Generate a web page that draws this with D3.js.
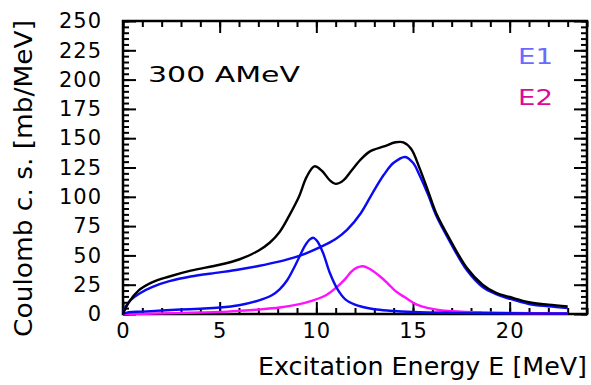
<!DOCTYPE html>
<html>
<head>
<meta charset="utf-8">
<script src="https://cdn.jsdelivr.net/npm/d3@7"></script>
<style>
  body { margin: 0; background: #fff; }
  svg text { font-family: "DejaVu Sans", sans-serif; }
</style>
</head>
<body>
<div id="chart"></div>
<script>
// values: [E (MeV), dσ/dE (mb/MeV)]
var totalCurve = [[0,0],[0.3,10],[0.8,20],[1.5,27],[2.4,32],[3.5,37],[5,42],[6,46.5],[7,54],[7.6,61],[8.1,70],
  [8.6,84],[9.1,100],[9.5,117],[9.9,126],[10.3,122],[10.7,114],[11,111],[11.4,114],[11.8,122],[12.3,132],
  [12.8,139],[13.5,143],[14.1,146.5],[14.5,146.5],[14.9,141],[15.35,124],[15.8,104],[16.2,86],[16.9,64],
  [17.8,39],[18.6,25],[19.3,18],[20,14.5],[21,10],[22,8],[23,6.5]];
var gdrE1 = [[0,0],[0.1,5],[0.4,12],[0.9,18],[1.5,23],[2.4,28],[3.5,32],[5,35.5],[6,38],[7,41],[8,44.5],
  [9,49],[9.5,52],[10.2,57],[11,64],[11.6,72],[12.3,86],[12.9,103],[13.5,119],[14,129],[14.6,134],[15,129],
  [15.35,118],[15.8,101],[16.2,84],[16.9,62],[17.8,37],[18.6,23],[19.3,17],[20,13],[21,8.5],[22,6.5],[23,5]];
var pygmyE1 = [[0,0],[0.3,1.5],[1,2],[2,3],[3,3.8],[4,4.5],[5,5.5],[6,7.5],[7,11.5],[7.7,16],[8.1,21],[8.5,29],
  [8.8,38],[9.1,48],[9.4,58],[9.65,63.5],[9.85,65],[10.05,62],[10.35,52],[10.7,35],[11.1,21],[11.5,12.5],
  [12,8],[12.4,6],[13,4],[13.8,2.8],[15,1.7],[17,1],[20,0.6],[23,0.4]];
var e2Curve = [[0,0],[2,0.5],[4,1.3],[5,1.8],[6,2.7],[7,3.8],[8.1,5.5],[9,8],[9.8,11.5],[10.5,16],[11.1,23.5],
  [11.5,30],[11.8,36],[12.1,39.5],[12.4,40.7],[12.7,39],[13.3,32],[13.7,26],[14.1,19.5],[14.6,14],[15.2,8],
  [15.8,5],[16.5,3],[17.5,2],[18.6,1.4],[20,0.9],[23,0.5]];

var xTicks = [0, 5, 10, 15, 20];
var yTicks = [0, 25, 50, 75, 100, 125, 150, 175, 200, 225, 250];

var W = 591, H = 385;
var margin = {left: 123, right: 4, top: 21, bottom: 71};

var svg = d3.select("#chart").append("svg")
  .attr("width", W).attr("height", H);

var x = d3.scaleLinear().domain([0, 24]).range([margin.left, W - margin.right]);
var y = d3.scaleLinear().domain([0, 250]).range([H - margin.bottom, margin.top]);

var minorX = d3.range(0, 25, 1);
var minorY = d3.range(0, 251, 5);

function styleAxis(g) {
  g.select(".domain").remove();
  g.selectAll(".tick line").attr("stroke", "#000").attr("stroke-width", 2);
  g.selectAll(".tick text").attr("fill", "#000").style("font-size", "21px").style("letter-spacing", "1px");
}
function noText(g) { g.selectAll(".tick text").remove(); }

// bottom axis: labels + major ticks, then minor ticks
svg.append("g").attr("transform", "translate(0," + y(0) + ")")
  .call(d3.axisBottom(x).tickValues(xTicks).tickSize(-12).tickPadding(9).tickFormat(d3.format("d")))
  .call(styleAxis);
svg.append("g").attr("transform", "translate(0," + y(0) + ")")
  .call(d3.axisBottom(x).tickValues(minorX).tickSize(-6))
  .call(styleAxis).call(noText);
// top axis
svg.append("g").attr("transform", "translate(0," + y(250) + ")")
  .call(d3.axisTop(x).tickValues(xTicks).tickSize(-12))
  .call(styleAxis).call(noText);
svg.append("g").attr("transform", "translate(0," + y(250) + ")")
  .call(d3.axisTop(x).tickValues(minorX).tickSize(-6))
  .call(styleAxis).call(noText);
// left axis
svg.append("g").attr("transform", "translate(" + x(0) + ",0)")
  .call(d3.axisLeft(y).tickValues(yTicks).tickSize(-13).tickPadding(21))
  .call(styleAxis);
svg.append("g").attr("transform", "translate(" + x(0) + ",0)")
  .call(d3.axisLeft(y).tickValues(minorY).tickSize(-6))
  .call(styleAxis).call(noText);
// right axis
svg.append("g").attr("transform", "translate(" + x(24) + ",0)")
  .call(d3.axisRight(y).tickValues(yTicks).tickSize(-13))
  .call(styleAxis).call(noText);
svg.append("g").attr("transform", "translate(" + x(24) + ",0)")
  .call(d3.axisRight(y).tickValues(minorY).tickSize(-6))
  .call(styleAxis).call(noText);

// frame
svg.append("rect")
  .attr("x", x(0)).attr("y", y(250))
  .attr("width", x(24) - x(0)).attr("height", y(0) - y(250))
  .attr("fill", "none").attr("stroke", "#000").attr("stroke-width", 2.5);

var line = d3.line()
  .x(function(d) { return x(d[0]); })
  .y(function(d) { return y(d[1]); })
  .curve(d3.curveCatmullRom.alpha(0.5));

var series = [
  {data: e2Curve, color: "#ff10ff"},
  {data: pygmyE1, color: "#0a0af5"},
  {data: gdrE1, color: "#0a0af5"},
  {data: totalCurve, color: "#000"}
];

svg.selectAll(".curve").data(series).enter().append("path")
  .attr("class", "curve")
  .attr("d", function(d) { return line(d.data); })
  .attr("fill", "none")
  .attr("stroke", function(d) { return d.color; })
  .attr("stroke-width", 2.4);

// texts (the original font is wider than DejaVu, so stretch to the same extents)
svg.append("text").attr("x", 148).attr("y", 82)
  .attr("textLength", 152).attr("lengthAdjust", "spacingAndGlyphs")
  .style("font-size", "21px").attr("fill", "#000").text("300 AMeV");
svg.append("text").attr("x", 518).attr("y", 64)
  .attr("textLength", 35).attr("lengthAdjust", "spacingAndGlyphs")
  .style("font-size", "21px").attr("fill", "#6a6aff").text("E1");
svg.append("text").attr("x", 518).attr("y", 105)
  .attr("textLength", 35).attr("lengthAdjust", "spacingAndGlyphs")
  .style("font-size", "21px").attr("fill", "#dc0a96").text("E2");

svg.append("text")
  .attr("x", 258).attr("y", 375)
  .attr("textLength", 329).attr("lengthAdjust", "spacingAndGlyphs")
  .style("font-size", "25px").attr("fill", "#000")
  .text("Excitation Energy E [MeV]");

svg.append("text")
  .attr("transform", "translate(32,337) rotate(-90)")
  .attr("textLength", 317).attr("lengthAdjust", "spacingAndGlyphs")
  .style("font-size", "25px").attr("fill", "#000")
  .text("Coulomb c. s. [mb/MeV]");
</script>
</body>
</html>
